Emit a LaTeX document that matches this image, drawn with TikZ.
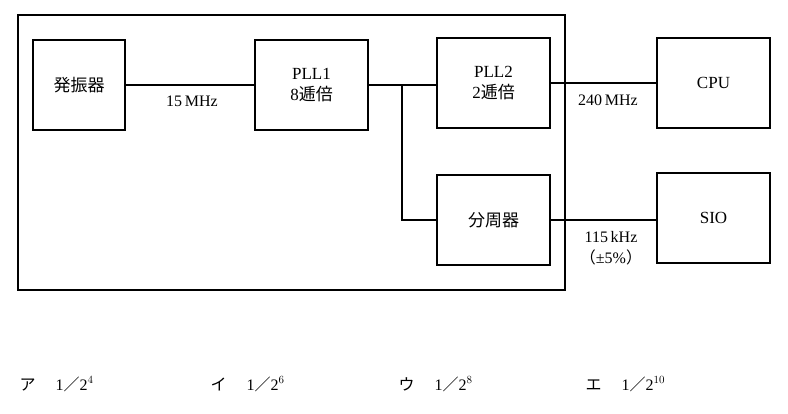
\documentclass[tikz,border=0pt]{standalone}
\usepackage{fontspec}
\setmainfont{Liberation Serif}
\newfontfamily\jp{Noto Sans CJK JP}
\begin{document}
\begin{tikzpicture}[x=1pt,y=-1pt,
  box/.style={draw,line width=1.2pt,minimum width=113pt,minimum height=90pt,align=center,font=\fontsize{17}{21}\selectfont},
  lab/.style={font=\fontsize{16}{19}\selectfont,align=center},
  ln/.style={line width=1.2pt}]
\useasboundingbox (0,0) rectangle (788,414);
\draw[ln] (18,15) rectangle (565,290);
\node[box,minimum width=92pt] (osc) at (79,85) {\jp 発振器};
\node[box] (pll1) at (311.5,85) {PLL1\\8{\jp 逓倍}};
\node[box] (pll2) at (493.5,83) {PLL2\\2{\jp 逓倍}};
\node[box] (cpu) at (713.5,83) {CPU};
\node[box] (div) at (493.5,220) {\jp 分周器};
\node[box] (sio) at (713.5,218) {SIO};
\coordinate (br) at (402,85);
\draw[ln] (osc.east) -- (osc.east -| pll1.west);
\draw[ln] (pll1.east) -- (pll1.east -| pll2.west);
\draw[ln] (br) |- (div.west);
\draw[ln] (pll2.east) -- (cpu.west);
\draw[ln] (div.east) -- (div.east -| sio.west);
\node[lab] (f1) at (192,101) {15\,MHz};
\node[lab] (f2) at (608,100) {240\,MHz};
\node[lab] (f3) at (611,237) {115\,kHz};
\node[lab] (f4) at (611,257) {{\jp （}±5\%{\jp ）}};
\node[lab,anchor=west] (a) at (16,384) {{\jp ア}\quad\ 1{\jp ／}2$^{4}$};
\node[lab,anchor=west] (b) at (207,384) {{\jp イ}\quad\ 1{\jp ／}2$^{6}$};
\node[lab,anchor=west] (c) at (395,384) {{\jp ウ}\quad\ 1{\jp ／}2$^{8}$};
\node[lab,anchor=west] (d) at (582,384) {{\jp エ}\quad\ 1{\jp ／}2$^{10}$};
\end{tikzpicture}
\end{document}
